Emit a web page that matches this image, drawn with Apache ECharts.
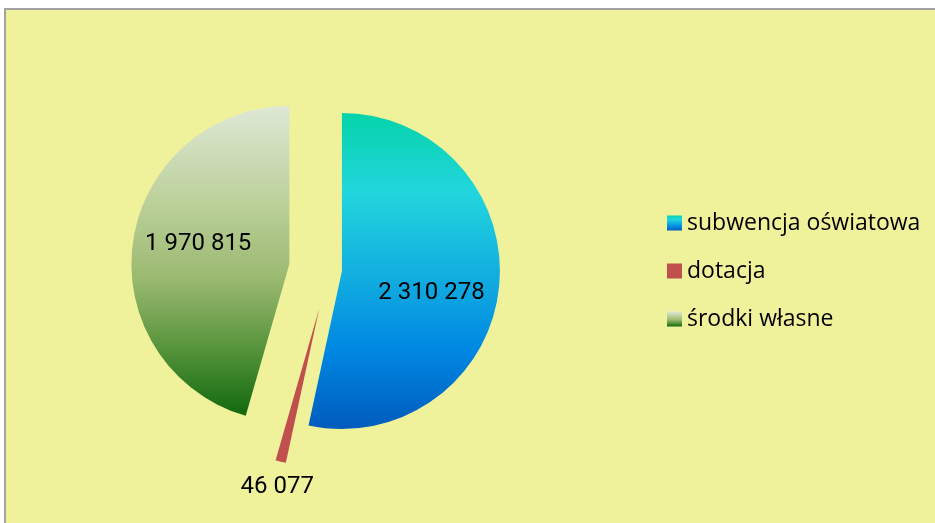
<!DOCTYPE html>
<html>
<head>
<meta charset="utf-8">
<script src="https://cdn.jsdelivr.net/npm/echarts@6/dist/echarts.min.js"></script>
<style>
    html, body { margin: 0; padding: 0; background: #ffffff; }
    #chart { width: 935px; height: 523px; }
</style>
</head>
<body>
<div id="chart"></div>
<script>
// dane wykresu
const categories = ['subwencja oświatowa', 'dotacja', 'środki własne']
const values = [2310278, 46077, 1970815]
// wysunięcie każdego wycinka (px)
const explode = [13, 40, 40]
// przesunięcie etykiet względem domyślnego położenia
const labelShift = [[8, 13], [-22, 99], [-10, -9]]

const grad = (stops) => new echarts.graphic.LinearGradient(0, 0, 0, 1,
    stops.map(s => ({ offset: s[0], color: s[1] })))

const colors = [
    grad([[0, '#05d3aa'], [0.25, '#22d6dd'], [0.5, '#13b0e0'], [0.75, '#0088e2'], [1, '#005bbd']]),
    '#c0504d',
    grad([[0, '#dee8d6'], [0.3, '#bdd19c'], [0.55, '#9cba72'], [0.78, '#57943b'], [1, '#11680e']])
]

const fmt = (v) => String(v).replace(/\B(?=(\d{3})+(?!\d))/g, ' ')

const chart = echarts.init(document.getElementById('chart'))

// jedna seria na każdy wycinek, żeby każdy miał własne wysunięcie
const series = categories.map((name, k) => ({
    type: 'pie',
    center: [329, 269.6],
    radius: [0, 158],
    startAngle: 90,
    clockwise: true,
    selectedMode: 'single',
    selectedOffset: explode[k],
    avoidLabelOverlap: false,
    emphasis: { disabled: true },
    labelLine: { show: false },
    labelLayout: { dx: labelShift[k][0], dy: labelShift[k][1] },
    data: categories.map((n, i) => ({
        name: n,
        value: values[i],
        selected: i === k,
        itemStyle: { color: i === k ? colors[i] : 'rgba(0,0,0,0)' },
        label: {
            show: i === k,
            position: 'inside',
            formatter: (p) => fmt(p.value),
            color: '#000000',
            fontFamily: 'Roboto',
            fontSize: 24
        }
    }))
}))

const option = {
    backgroundColor: '#ffffff',
    animation: false,
    graphic: [{
        type: 'rect',
        z: -10,
        shape: { x: 5, y: 9, width: 960, height: 540 },
        style: { fill: '#eff29b', stroke: '#a3a3a3', lineWidth: 2 }
    }],
    legend: {
        orient: 'vertical',
        left: 662,
        top: 206,
        icon: 'rect',
        itemWidth: 15,
        itemHeight: 15,
        itemGap: 24,
        selectedMode: false,
        textStyle: {
            fontFamily: 'Open Sans',
            fontSize: 23,
            lineHeight: 24,
            color: '#000000'
        },
        data: categories.map((n, i) => ({ name: n, itemStyle: { color: colors[i] } }))
    },
    series: series
}

chart.setOption(option)
window.addEventListener('resize', () => chart.resize())
</script>
</body>
</html>
